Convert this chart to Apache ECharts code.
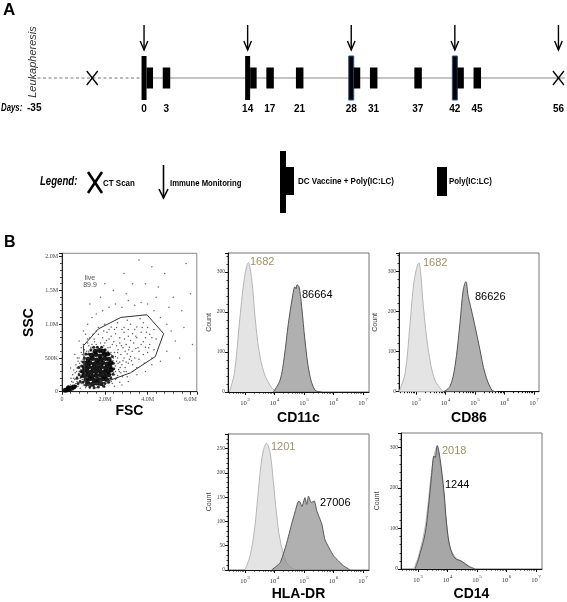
<!DOCTYPE html>
<html><head><meta charset="utf-8">
<script src="https://cdn.jsdelivr.net/npm/echarts@6/dist/echarts.min.js"></script>
<style>html,body{margin:0;padding:0;background:#fff}#c{width:567px;height:602px}</style>
</head><body><div id="c"></div>
<script>
// ---------- Panel A: schedule ----------
const dayTicks = [0, 3, 14, 17, 21, 28, 31, 37, 42, 45, 56];
const vaccineDays = [0, 14, 28, 42];
const polyDays = [3, 17, 21, 31, 37, 45];
const monitorDays = [0, 14, 28, 42, 56];
const ctScanDays = [-7, 56];
const outlinedVaccineDays = [28, 42];
const leukapheresisDayLabel = '-35';

// ---------- Panel B: FSC/SSC dot plot (values in millions) ----------
const scatterCore = [[1.22,0.12],[1.42,0.11],[1.62,0.13],[1.82,0.12],
[1.12,0.18],[1.3,0.19],[1.5,0.17],[1.7,0.18],[1.9,0.19],[2.08,0.18],
[1.02,0.24],[1.2,0.25],[1.4,0.23],[1.6,0.24],[1.8,0.25],[2.0,0.23],[2.18,0.25],
[1.0,0.3],[1.18,0.31],[1.38,0.29],[1.58,0.3],[1.78,0.31],[1.98,0.29],[2.16,0.3],[2.3,0.32],
[1.05,0.36],[1.24,0.37],[1.44,0.35],[1.64,0.36],[1.84,0.37],[2.04,0.35],[2.24,0.37],
[1.12,0.42],[1.3,0.43],[1.5,0.41],[1.7,0.42],[1.9,0.43],[2.1,0.41],[2.28,0.43],
[1.22,0.48],[1.42,0.49],[1.62,0.47],[1.82,0.48],[2.02,0.49],[2.2,0.48],
[1.38,0.54],[1.58,0.55],[1.78,0.53],[1.98,0.55],[2.12,0.56],
[1.55,0.6],[1.75,0.61],[1.92,0.6],
[0.15,0.02],[0.25,0.03],[0.35,0.04],[0.45,0.05],[0.55,0.07],[0.3,0.06]];
const scatterDense = [[0.85,0.15],[0.9,0.22],[0.88,0.3],[0.92,0.38],[0.98,0.44],[1.05,0.5],[1.12,0.56],[1.25,0.56],[1.35,0.62],[1.48,0.66],[1.65,0.66],[1.85,0.66],[2.02,0.62],[2.2,0.56],[2.35,0.52],[2.4,0.42],[2.42,0.34],[2.38,0.26],[2.28,0.2],[2.18,0.14],[2.0,0.12],[1.95,0.08],[1.7,0.07],[1.5,0.06],[1.3,0.07],[1.1,0.1],[0.98,0.14],[0.75,0.12],[0.65,0.08],[0.7,0.2],[0.8,0.25],[0.78,0.36]];
const scatterMid = [[0.6,0.1],[0.75,0.08],[0.9,0.12],[1.0,0.1],[1.15,0.08],[1.3,0.05],[1.5,0.08],[1.7,0.1],[1.9,0.09],[2.1,0.13],[2.3,0.15],[2.5,0.18],[0.7,0.15],
[0.55,0.2],[0.7,0.22],[0.85,0.2],[0.95,0.25],[2.3,0.22],[2.45,0.25],[2.6,0.24],[2.75,0.28],[2.9,0.3],[0.45,0.15],[0.62,0.28],[0.8,0.3],
[0.7,0.35],[0.85,0.38],[0.9,0.45],[1.0,0.4],[2.35,0.35],[2.5,0.38],[2.65,0.33],[2.8,0.4],[2.95,0.36],[3.1,0.42],[3.3,0.4],[0.55,0.32],
[0.8,0.5],[0.95,0.55],[1.05,0.5],[1.15,0.6],[1.35,0.6],[2.3,0.55],[2.45,0.58],[2.6,0.5],[2.75,0.55],[2.9,0.5],[3.05,0.56],[3.2,0.52],[3.4,0.5],[3.6,0.48],[3.8,0.55],[4.0,0.58],
[0.9,0.65],[1.0,0.7],[1.25,0.68],[1.45,0.65],[1.6,0.7],[1.85,0.66],[2.0,0.72],[2.15,0.65],[2.35,0.7],[2.55,0.68],[2.7,0.72],[2.85,0.65],[3.0,0.7],[3.15,0.66],[3.35,0.72],[3.55,0.65],[3.7,0.7],[3.9,0.66],[4.1,0.7],[4.3,0.62],
[1.3,0.8],[1.5,0.78],[1.7,0.85],[1.9,0.8],[2.1,0.88],[2.3,0.82],[2.5,0.86],[2.7,0.8],[2.9,0.88],[3.1,0.82],[3.3,0.86],[3.5,0.8],[3.7,0.88],[3.9,0.8],[4.1,0.85],[4.4,0.78],[2.0,0.6],[2.2,0.78],
[1.7,0.95],[2.0,1.0],[2.3,0.96],[2.6,1.02],[2.9,0.95],[3.2,1.0],[3.5,0.96],[3.8,1.02],[4.0,0.95],[4.3,0.92],[2.45,0.92],[3.05,1.06],[3.65,1.08],
[1.0,0.15],[1.2,0.55],[1.6,0.6],[1.9,0.55],[2.2,0.18],[2.3,0.42],[2.4,0.5],[2.5,0.3],[2.55,0.45],[2.7,0.44],[2.15,0.6],[1.4,0.7],[1.8,0.72],[0.75,0.45],[0.65,0.4],[0.4,0.1],[0.3,0.08],[0.5,0.25],[0.6,0.05],
[0.78,0.27],[0.88,0.33],[0.82,0.42],[0.72,0.5],[0.9,0.58],[1.05,0.62],[1.2,0.72],[1.35,0.66],[1.52,0.74],[1.68,0.66],[1.95,0.68],[2.08,0.76],[2.25,0.66],[2.42,0.74],[2.62,0.62],[2.78,0.68],[2.95,0.6],[3.12,0.62],[3.28,0.6],[3.45,0.64],[2.38,0.46],[2.5,0.52],[2.62,0.42],[2.72,0.36],[2.85,0.46],[3.0,0.44],[3.15,0.48],[3.25,0.46],[2.42,0.28],[2.55,0.2],[2.68,0.3],[2.82,0.22],[3.0,0.3],[2.35,0.12],[2.45,0.08],[2.0,0.07],[1.6,0.06],[1.1,0.06],[0.85,0.05],[0.65,0.12],[0.52,0.14],[0.42,0.2],[0.48,0.09],[0.6,0.18],[0.95,0.18],[0.98,0.48],[1.1,0.55],[0.68,0.3],[1.25,0.6],[1.45,0.58],[2.28,0.58],[2.6,0.58],[2.92,0.78],[3.2,0.76],[3.45,0.82],[3.6,0.6],[3.8,0.74],[3.95,0.88],[4.2,0.8],[3.75,0.95],[3.4,0.92],[3.1,0.92],[2.8,0.92],[2.55,0.95],[2.2,0.92],[1.95,0.9],[1.6,0.9],[1.45,0.85],[1.2,0.78],[1.1,0.85],[4.05,0.65],[4.2,0.5],[3.85,0.42],[3.5,0.36],[3.3,0.3],[3.05,0.22],[2.7,0.14]];
const scatterSparse = [[0.4,0.35],[0.6,0.55],[0.8,0.75],[1.0,0.9],[1.2,1.0],[1.4,1.1],[1.6,1.15],[1.9,1.2],[2.2,1.25],[2.5,1.3],[2.8,1.25],[3.1,1.35],[3.4,1.28],[3.7,1.32],[4.0,1.3],[4.3,1.2],[4.6,1.1],[4.9,1.0],[5.1,0.9],[5.3,0.75],[4.9,0.6],[4.6,0.45],[4.2,0.4],[3.9,0.3],[3.5,0.25],[3.1,0.15],[2.8,0.1],[5.6,1.2],[5.2,1.4],[4.5,1.55],[3.9,1.6],[3.3,1.6],[2.9,1.75],[2.4,1.5],[1.8,1.4],[4.2,1.85],[5.8,1.9],[6.0,1.45],[5.7,0.95],[5.5,0.5],[6.1,0.7],[3.6,1.95],[4.8,1.75],[2.0,1.6],[1.3,1.3],[3.0,1.45],[4.4,1.4],[5.0,1.25]];
const liveGate = [[1.0,0.68],[1.7,0.93],[2.75,1.1],[3.97,1.14],[4.75,0.86],[4.36,0.52],[3.2,0.28],[2.0,0.14],[1.1,0.1],[1.0,0.68]];
const liveGateLabel = ['live', '89.9'];

// ---------- Panel B: histograms ([log10 intensity, count]) ----------
const decadeTicks = [3, 4, 5, 6, 7];
const cd11cIso = [[2.47,0],[2.64,47],[2.81,172],[2.97,280],[3.11,323],[3.23,280],[3.34,188],[3.47,105],[3.65,47],[3.88,13],[4.07,0]];
const cd11cStain = [[3.96,0],[4.19,30],[4.33,88],[4.47,172],[4.62,243],[4.69,263],[4.73,258],[4.76,268],[4.83,263],[4.92,213],[5.03,130],[5.18,47],[5.37,5],[5.6,0]];
const cd86Iso = [[2.43,0],[2.63,46],[2.80,171],[2.94,279],[3.10,322],[3.16,296],[3.25,213],[3.42,104],[3.64,29],[3.93,0]];
const cd86Stain = [[3.93,0],[4.15,13],[4.32,63],[4.49,171],[4.60,254],[4.69,275],[4.77,238],[4.85,213],[4.98,171],[5.17,104],[5.34,46],[5.57,4],[5.74,0]];
const hladrIso = [[3.0,0],[3.17,29],[3.32,82],[3.43,149],[3.54,215],[3.63,248],[3.73,261],[3.85,241],[3.96,182],[4.07,115],[4.19,62],[4.41,15],[4.69,0]];
const hladrStain = [[3.90,0],[4.19,15],[4.41,55],[4.58,95],[4.72,125],[4.78,138],[4.83,142],[4.86,140],[4.93,131],[5.03,149],[5.09,135],[5.15,152],[5.24,139],[5.35,142],[5.43,122],[5.6,95],[5.71,62],[6.0,29],[6.16,19],[6.33,9],[6.56,0]];
const cd14Iso = [[2.85,0],[3.0,28],[3.22,95],[3.34,160],[3.45,236],[3.52,270],[3.56,285],[3.63,300],[3.74,265],[3.87,185],[3.97,108],[4.1,52],[4.28,28],[4.5,18],[4.75,6],[4.95,0]];
const cd14Stain = [[2.9,0],[3.01,23],[3.24,87],[3.35,151],[3.46,231],[3.54,279],[3.58,275],[3.65,305],[3.75,271],[3.88,191],[3.97,111],[4.08,55],[4.25,27],[4.48,19],[4.71,7],[4.93,0]];
const panelNames = ['CD11c', 'CD86', 'HLA-DR', 'CD14'];
const isoMfi = ['1682', '1682', '1201', '2018'];
const stainMfi = ['86664', '86626', '27006', '1244'];

// ---------- helpers ----------
const SANS = "'Liberation Sans',Arial,sans-serif";
const SERIF = "'Liberation Serif','DejaVu Serif',serif";
const minorLog = [];
for (let d = 2; d <= 7; d++) for (let k = 2; k <= 9; k++) minorLog.push(d + Math.log10(k));

const chart = echarts.init(document.getElementById('c'), null, {renderer: 'canvas'});

const grids = [
  {left: 32, right: 0, top: 56, height: 44},
  {left: 62, top: 253.3, width: 134.8, height: 138.4, show: true, borderColor: '#888', borderWidth: 1},
  {left: 228, top: 253, width: 141, height: 139, show: true, borderColor: '#777', borderWidth: 1},
  {left: 399, top: 253, width: 140, height: 138.7, show: true, borderColor: '#777', borderWidth: 1},
  {left: 228, top: 434, width: 141, height: 137, show: true, borderColor: '#777', borderWidth: 1},
  {left: 401, top: 433, width: 141, height: 140, show: true, borderColor: '#777', borderWidth: 1}
];
const histGrid = [2, 3, 4, 5];
const histXMax = [7.2, 7.17, 7.2, 7.2];
const histYMax = [347.5, 346.75, 280, 336];
const histYInt = [100, 100, 50, 100];
const countGap = [7, 20, 7, 20];
const nameGap = [19, 19, 17, 18];

const xAxes = [
  {gridIndex: 0, type: 'value', min: -15.14, max: 56.86, axisLine: {show: false}, axisTick: {show: false}, splitLine: {show: false},
   axisLabel: {customValues: dayTicks, margin: 4, fontFamily: SANS, fontWeight: 'bold', fontSize: 10, color: '#000'}},
  {gridIndex: 1, type: 'value', min: 0, max: 6.3, interval: 2, splitLine: {show: false},
   axisLine: {lineStyle: {color: '#222', width: 1}}, axisTick: {length: 3, lineStyle: {color: '#222'}},
   minorTick: {show: true, splitNumber: 5, length: 2, lineStyle: {color: '#444'}},
   axisLabel: {fontFamily: SERIF, fontSize: 6, color: '#444', margin: 5, showMaxLabel: false, formatter: v => v === 0 ? '0' : v.toFixed(1) + 'M'},
   name: 'FSC', nameLocation: 'middle', nameGap: 12, nameTextStyle: {fontFamily: SANS, fontWeight: 'bold', fontSize: 14, color: '#000'}}
];
const yAxes = [
  {gridIndex: 0, type: 'value', min: -1, max: 1, show: false},
  {gridIndex: 1, type: 'value', min: 0, max: 2.05, interval: 0.5, splitLine: {show: false},
   axisLine: {lineStyle: {color: '#222', width: 1}}, axisTick: {length: 3, lineStyle: {color: '#222'}},
   minorTick: {show: true, splitNumber: 5, length: 2, lineStyle: {color: '#444'}},
   axisLabel: {fontFamily: SERIF, fontSize: 6, color: '#444', margin: 4, showMaxLabel: false,
     formatter: v => v === 0 ? '0' : (v < 1 ? Math.round(v * 1000) + 'K' : v.toFixed(1) + 'M')},
   name: 'SSC', nameLocation: 'middle', nameGap: 26, nameRotate: 90, nameTextStyle: {fontFamily: SANS, fontWeight: 'bold', fontSize: 14, color: '#000'}}
];
histGrid.forEach((g, i) => {
  xAxes.push({gridIndex: g, type: 'value', min: 2.424, max: histXMax[i], splitLine: {show: false},
    axisLine: {lineStyle: {color: '#111', width: 1}}, axisTick: {customValues: decadeTicks, length: 3, lineStyle: {color: '#111'}},
    axisLabel: {customValues: decadeTicks, margin: 5, formatter: v => '{b|10}{s|' + Math.round(v) + '}',
      rich: {b: {fontFamily: SERIF, fontSize: 6.5, color: '#333', lineHeight: 10, verticalAlign: 'bottom'},
             s: {fontFamily: SERIF, fontSize: 5, color: '#333', lineHeight: 10, verticalAlign: 'top', padding: [0, 0, 0, 0.5]}}},
    name: panelNames[i], nameLocation: 'middle', nameGap: nameGap[i],
    nameTextStyle: {fontFamily: SANS, fontWeight: 'bold', fontSize: 14, color: '#000'}});
  xAxes.push({gridIndex: g, type: 'value', min: 2.424, max: histXMax[i], position: 'bottom', splitLine: {show: false},
    axisLine: {show: false}, axisLabel: {show: false},
    axisTick: {customValues: minorLog.filter(v => v > 2.424 && v < histXMax[i]), length: 1.5, lineStyle: {color: '#111'}}});
  yAxes.push({gridIndex: g, type: 'value', min: 0, max: histYMax[i], interval: histYInt[i], splitLine: {show: false},
    axisLine: {lineStyle: {color: '#111', width: 1}}, axisTick: {length: 3, lineStyle: {color: '#111'}},
    minorTick: {show: true, splitNumber: 5, length: 1.5, lineStyle: {color: '#333'}},
    axisLabel: {fontFamily: SERIF, fontSize: 5.5, color: '#444', margin: 3, showMaxLabel: false},
    name: 'Count', nameLocation: 'middle', nameRotate: 90, nameGap: countGap[i],
    nameTextStyle: {fontFamily: SANS, fontSize: 7, color: '#444'}});
});

// ---------- series ----------
const series = [];
series.push({type: 'custom', xAxisIndex: 0, yAxisIndex: 0, silent: true, data: [[0]], z: 1,
  renderItem: (params, api) => {
    const p = api.coord([api.value(0), 0]);
    const cs = params.coordSys;
    return {type: 'group', children: [
      {type: 'line', shape: {x1: cs.x, y1: p[1], x2: p[0], y2: p[1]}, style: {stroke: '#777', lineWidth: 1, lineDash: [3, 2.5]}},
      {type: 'line', shape: {x1: p[0], y1: p[1], x2: cs.x + cs.width, y2: p[1]}, style: {stroke: '#888', lineWidth: 1}}
    ]};
  }});
series.push({type: 'custom', xAxisIndex: 0, yAxisIndex: 0, silent: true, z: 3, data: vaccineDays.map(d => [d]),
  renderItem: (params, api) => {
    const d = api.value(0);
    const p = api.coord([d, 0]);
    const outlined = outlinedVaccineDays.indexOf(d) >= 0;
    return {type: 'group', children: [
      {type: 'rect', shape: {x: p[0] - 2.5, y: p[1] - 22, width: 5, height: 44},
       style: {fill: '#000', stroke: outlined ? '#2d5485' : null, lineWidth: outlined ? 1 : 0}},
      {type: 'rect', shape: {x: p[0] + 2.5, y: p[1] - 10.5, width: 6.5, height: 21}, style: {fill: '#000'}}
    ]};
  }});
series.push({type: 'custom', xAxisIndex: 0, yAxisIndex: 0, silent: true, z: 3, data: polyDays.map(d => [d]),
  renderItem: (params, api) => {
    const p = api.coord([api.value(0), 0]);
    return {type: 'rect', shape: {x: p[0] - 3.5, y: p[1] - 10.5, width: 7.5, height: 21}, style: {fill: '#000'}};
  }});
series.push({type: 'custom', xAxisIndex: 0, yAxisIndex: 0, silent: true, z: 3, data: monitorDays.map(d => [d]),
  renderItem: (params, api) => {
    const p = api.coord([api.value(0), 0]);
    const x = p[0], tip = p[1] - 28;
    return {type: 'group', children: [
      {type: 'line', shape: {x1: x, y1: p[1] - 53, x2: x, y2: tip}, style: {stroke: '#000', lineWidth: 1.4}},
      {type: 'polyline', shape: {points: [[x - 3.8, tip - 9], [x, tip], [x + 3.8, tip - 9]]}, style: {stroke: '#000', lineWidth: 1.4, fill: null}}
    ]};
  }});
series.push({type: 'custom', xAxisIndex: 0, yAxisIndex: 0, silent: true, z: 3, data: ctScanDays.map(d => [d]),
  renderItem: (params, api) => {
    const p = api.coord([api.value(0), 0]);
    return {type: 'group', children: [
      {type: 'line', shape: {x1: p[0] - 5.5, y1: p[1] - 7, x2: p[0] + 5.5, y2: p[1] + 7}, style: {stroke: '#000', lineWidth: 1.3}},
      {type: 'line', shape: {x1: p[0] + 5.5, y1: p[1] - 7, x2: p[0] - 5.5, y2: p[1] + 7}, style: {stroke: '#000', lineWidth: 1.3}}
    ]};
  }});

series.push({type: 'scatter', xAxisIndex: 1, yAxisIndex: 1, silent: true, data: scatterSparse, symbolSize: 1.5, itemStyle: {color: '#444'}});
series.push({type: 'scatter', xAxisIndex: 1, yAxisIndex: 1, silent: true, data: scatterMid, symbolSize: 1.5, itemStyle: {color: '#333'}});
series.push({type: 'scatter', xAxisIndex: 1, yAxisIndex: 1, silent: true, data: scatterDense, symbolSize: 3, itemStyle: {color: '#111', opacity: 0.9}});
series.push({type: 'scatter', xAxisIndex: 1, yAxisIndex: 1, silent: true, data: scatterCore, symbolSize: 5, itemStyle: {color: '#000', opacity: 0.9}});
series.push({type: 'line', xAxisIndex: 1, yAxisIndex: 1, silent: true, data: liveGate, symbol: 'none', z: 5,
  lineStyle: {color: '#333', width: 1}});

const isoSets = [cd11cIso, cd86Iso, hladrIso, cd14Iso];
const stainSets = [cd11cStain, cd86Stain, hladrStain, cd14Stain];
histGrid.forEach((g, i) => {
  const xi = 2 + i * 2, yi = 2 + i;
  series.push({type: 'line', xAxisIndex: xi, yAxisIndex: yi, silent: true, data: isoSets[i], symbol: 'none', smooth: 0.35,
    lineStyle: {color: '#b5b5b5', width: 1}, areaStyle: {color: '#e4e4e4', opacity: 1}, z: 2});
  series.push({type: 'line', xAxisIndex: xi, yAxisIndex: yi, silent: true, data: stainSets[i], symbol: 'none', smooth: i === 2 ? 0.15 : 0.35,
    lineStyle: {color: '#555', width: 1}, areaStyle: {color: '#8a8a8a', opacity: 0.68}, z: 3});
});

// ---------- text & legend graphics ----------
const T = (x, y, text, font, extra, sx) => ({type: 'text', x, y, scaleX: sx || 1,
  style: Object.assign({text, font, fill: '#000', textVerticalAlign: 'middle'}, extra || {})});
const LEG = "bold 9.5px " + SANS;
const graphic = [
  T(3, 10, 'A', "bold 17px " + SANS),
  T(4, 243, 'B', "bold 16px " + SANS),
  {type: 'text', x: 33, y: 62, rotation: Math.PI / 2, style: {text: 'Leukapheresis', font: "italic 11px " + SANS, fill: '#333', textAlign: 'center', textVerticalAlign: 'middle'}},
  T(1, 108, 'Days:', "italic bold 10px " + SANS, null, 0.78),
  T(27, 108, leukapheresisDayLabel, "bold 10px " + SANS),
  T(40, 182, 'Legend:', "italic bold 12px " + SANS, null, 0.8),
  {type: 'line', shape: {x1: 88, y1: 172, x2: 102, y2: 193}, style: {stroke: '#000', lineWidth: 2.6}},
  {type: 'line', shape: {x1: 102, y1: 172, x2: 88, y2: 193}, style: {stroke: '#000', lineWidth: 2.6}},
  T(103, 183, 'CT Scan', LEG, null, 0.84),
  {type: 'line', shape: {x1: 163.5, y1: 165, x2: 163.5, y2: 198}, style: {stroke: '#000', lineWidth: 1.6}},
  {type: 'polyline', shape: {points: [[159, 189], [163.5, 198], [168, 189]]}, style: {stroke: '#000', lineWidth: 1.6, fill: null}},
  T(170, 183, 'Immune Monitoring', LEG, null, 0.81),
  {type: 'rect', shape: {x: 280, y: 151, width: 6, height: 62}, style: {fill: '#000'}},
  {type: 'rect', shape: {x: 286, y: 167, width: 8, height: 28}, style: {fill: '#000'}},
  T(298, 181, 'DC Vaccine + Poly(IC:LC)', LEG, null, 0.84),
  {type: 'rect', shape: {x: 437, y: 167, width: 10, height: 29}, style: {fill: '#000'}},
  T(449, 181, 'Poly(IC:LC)', LEG, null, 0.83),
  {type: 'text', x: 90, y: 278.5, style: {text: liveGateLabel[0], font: "7px " + SANS, fill: '#555', textAlign: 'center', textVerticalAlign: 'middle'}},
  {type: 'text', x: 90, y: 285.5, style: {text: liveGateLabel[1], font: "7px " + SANS, fill: '#555', textAlign: 'center', textVerticalAlign: 'middle'}}
];
const isoPos = [[250, 262], [423, 263], [271, 447], [442, 451]];
const stainPos = [[302, 295], [475, 297], [320, 503], [445, 485]];
for (let i = 0; i < 4; i++) {
  graphic.push(T(isoPos[i][0], isoPos[i][1], isoMfi[i], "11px " + SANS, {fill: '#a09263'}));
  graphic.push(T(stainPos[i][0], stainPos[i][1], stainMfi[i], "11px " + SANS, {fill: '#000'}));
}

chart.setOption({
  animation: false,
  backgroundColor: '#fff',
  grid: grids,
  xAxis: xAxes,
  yAxis: yAxes,
  series: series,
  graphic: graphic
});
</script>
</body></html>
